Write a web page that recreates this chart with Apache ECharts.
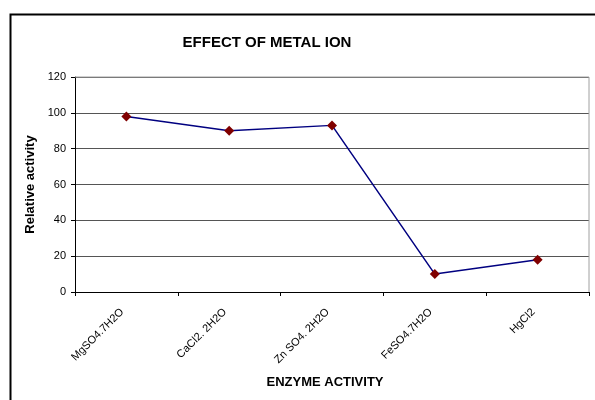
<!DOCTYPE html>
<html>
<head>
<meta charset="utf-8">
<script src="https://cdn.jsdelivr.net/npm/echarts@6/dist/echarts.min.js"></script>
<style>
html,body{margin:0;padding:0;background:#fff;}
#chart{width:595px;height:400px;}
</style>
</head>
<body>
<div id="chart"></div>
<script>
var categories = ['MgSO4.7H2O', 'CaCl2. 2H2O', 'Zn SO4. 2H2O', 'FeSO4.7H2O', 'HgCl2'];
var values = [98, 90, 93, 10, 18];
var yTicks = [0, 20, 40, 60, 80, 100, 120];

var chart = echarts.init(document.getElementById('chart'), null, {renderer: 'canvas'});
var font = 'Liberation Sans, Arial, sans-serif';
chart.setOption({
  animation: false,
  backgroundColor: '#fff',
  graphic: [{
    type: 'rect', left: 8, top: 12, z: 100, silent: true,
    shape: {x: 0, y: 0, width: 620, height: 420},
    style: {fill: null, stroke: '#000', lineWidth: 2}
  }, {
    type: 'line', z: 5, silent: true,
    shape: {x1: 75, y1: 77, x2: 589, y2: 77},
    style: {stroke: '#a0a0a0', lineWidth: 1}
  }, {
    type: 'line', z: 5, silent: true,
    shape: {x1: 589, y1: 77, x2: 589, y2: 292},
    style: {stroke: '#a0a0a0', lineWidth: 1}
  }],
  title: {
    text: 'EFFECT OF METAL ION',
    left: 262, top: 30, textAlign: 'center',
    textStyle: {fontFamily: font, fontSize: 15, fontWeight: 'bold', color: '#000'}
  },
  grid: {left: 75, right: 6, top: 77, bottom: 108, containLabel: false},
  xAxis: {
    type: 'category',
    data: categories,
    boundaryGap: true,
    axisLine: {lineStyle: {color: '#000', width: 1}},
    axisTick: {show: true, alignWithLabel: false, length: 4, lineStyle: {color: '#000'}},
    axisLabel: {rotate: 45, fontFamily: font, fontSize: 11, color: '#000', margin: 14, interval: 0, padding: [0, 6, 0, 0]},
    name: 'ENZYME ACTIVITY',
    nameLocation: 'middle',
    nameGap: 84,
    nameTextStyle: {fontFamily: font, fontSize: 13, fontWeight: 'bold', color: '#000', padding: [0, 14, 0, 0]}
  },
  yAxis: {
    type: 'value',
    min: yTicks[0], max: yTicks[yTicks.length - 1], interval: 20,
    axisLine: {show: true, lineStyle: {color: '#000', width: 1}},
    axisTick: {show: true, length: 4, lineStyle: {color: '#000'}},
    axisLabel: {fontFamily: font, fontSize: 11, color: '#000', margin: 9},
    splitLine: {show: true, lineStyle: {color: '#555', width: 1}},
    name: 'Relative activity',
    nameLocation: 'middle',
    nameGap: 33,
    nameTextStyle: {fontFamily: font, fontSize: 13, fontWeight: 'bold', color: '#000'}
  },
  series: [{
    type: 'line',
    data: values,
    symbol: 'diamond',
    symbolSize: 10,
    lineStyle: {color: '#000080', width: 1.5},
    itemStyle: {color: '#800000', borderWidth: 0}
  }]
});
</script>
</body>
</html>
